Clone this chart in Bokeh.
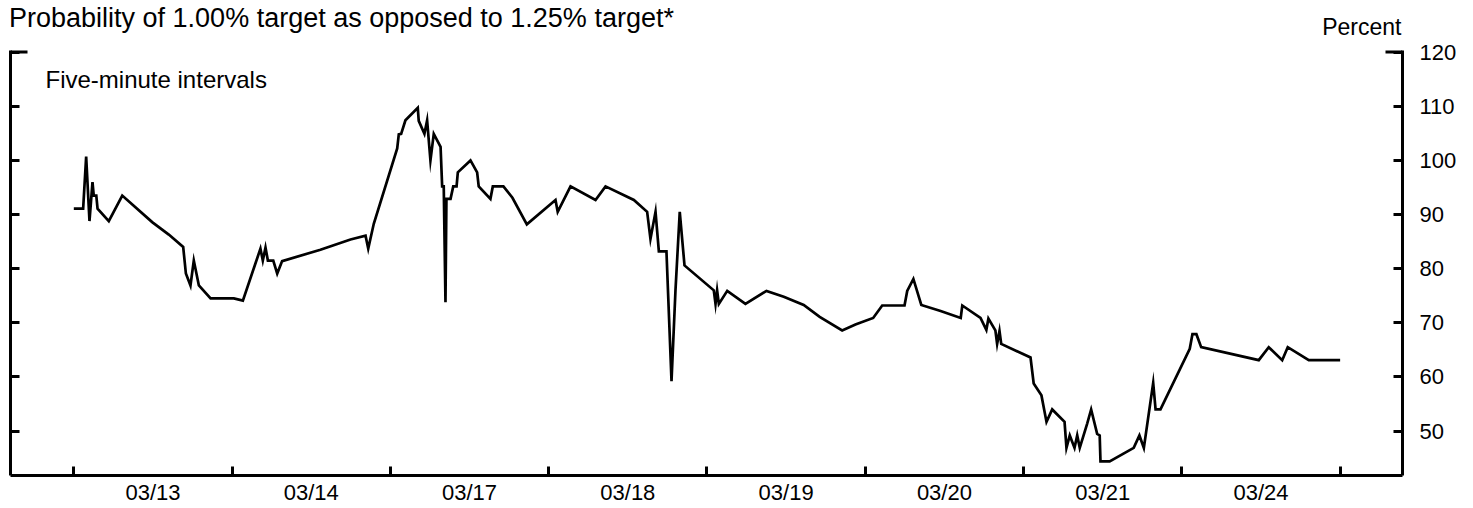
from bokeh.plotting import figure
from bokeh.models import Range1d, LinearAxis, FixedTicker, Label
from bokeh.embed import file_html
from bokeh.resources import INLINE

# ---- data -------------------------------------------------------------
day_labels = ["03/13", "03/14", "03/17", "03/18", "03/19", "03/20", "03/21", "03/24"]
y_ticks = [50, 60, 70, 80, 90, 100, 110, 120]

# position in trading days (0 = start of 03/13, 8 = end of 03/24)
x_pos = [0.0, 0.059, 0.078, 0.099, 0.118, 0.126, 0.142, 0.150, 0.221, 0.306,
         0.495, 0.600, 0.691, 0.708, 0.737, 0.758, 0.790, 0.864, 1.011, 1.068,
         1.179, 1.194, 1.211, 1.226, 1.260, 1.285, 1.316, 1.558, 1.748, 1.843,
         1.860, 1.895, 2.043, 2.053, 2.068, 2.095, 2.173, 2.179, 2.215, 2.232,
         2.253, 2.274, 2.317, 2.327, 2.337, 2.348, 2.354, 2.380, 2.397, 2.418,
         2.426, 2.506, 2.548, 2.558, 2.632, 2.647, 2.714, 2.771, 2.862, 3.043,
         3.057, 3.138, 3.296, 3.359, 3.538, 3.622, 3.643, 3.675, 3.696, 3.744,
         3.776, 3.801, 3.828, 3.858, 4.043, 4.054, 4.064, 4.075, 4.128, 4.243,
         4.376, 4.485, 4.611, 4.712, 4.854, 4.938, 5.050, 5.107, 5.248, 5.265,
         5.304, 5.354, 5.476, 5.603, 5.613, 5.728, 5.765, 5.778, 5.822, 5.833,
         5.848, 5.859, 6.044, 6.064, 6.113, 6.145, 6.181, 6.259, 6.271, 6.292,
         6.322, 6.339, 6.355, 6.402, 6.427, 6.465, 6.481, 6.486, 6.544, 6.696,
         6.732, 6.760, 6.819, 6.834, 6.865, 7.050, 7.067, 7.092, 7.122, 7.486,
         7.549, 7.634, 7.669, 7.802, 8.0]

prob = [91.1, 91.1, 100.7, 88.8, 96.0, 93.5, 93.5, 91.1, 88.8, 93.5,
        88.6, 86.3, 84.0, 79.1, 76.9, 81.5, 76.9, 74.5, 74.5, 74.1,
        83.7, 81.5, 83.9, 81.5, 81.5, 79.1, 81.4, 83.5, 85.4, 86.1,
        83.7, 88.3, 102.2, 104.8, 104.9, 107.4, 109.7, 107.3, 104.9, 107.4,
        100.0, 104.9, 102.5, 95.2, 95.2, 73.8, 92.9, 92.9, 95.2, 95.2,
        97.8, 100.0, 97.8, 95.2, 92.9, 95.2, 95.2, 93.1, 88.2, 92.7,
        90.5, 95.2, 92.7, 95.2, 92.7, 90.5, 85.5, 90.5, 83.2, 83.2,
        59.2, 76.0, 90.5, 80.6, 76.0, 73.5, 76.0, 73.5, 75.9, 73.5,
        75.9, 74.8, 73.3, 71.1, 68.6, 69.7, 70.9, 73.2, 73.2, 75.9,
        78.1, 73.3, 72.2, 70.9, 73.2, 70.9, 68.7, 70.8, 68.6, 66.1,
        68.5, 66.1, 63.6, 58.8, 56.6, 51.7, 54.0, 51.7, 46.9, 49.2,
        46.9, 49.2, 46.9, 51.4, 54.0, 49.5, 49.2, 44.4, 44.4, 46.9,
        49.2, 46.9, 58.9, 54.0, 54.0, 65.2, 67.9, 67.9, 65.5, 63.1,
        65.5, 63.1, 65.5, 63.1, 63.1]

title_text = "Probability of 1.00% target as opposed to 1.25% target*"
unit_text = "Percent"
note_text = "Five-minute intervals"

# ---- layout -----------------------------------------------------------
FONT = "Liberation Sans"
W, H = 1473, 508
LEFT, RIGHT_EDGE = 10, 1402          # axis lines (px)
AXIS_TOP, AXIS_BOTTOM = 50, 475      # extent of the vertical axis lines (px)
X0, X1 = -0.4, 8.394                 # days
Y0, Y1 = 41.8, 120.3                 # percent at AXIS_BOTTOM / AXIS_TOP
PX_X = (RIGHT_EDGE - LEFT) / (X1 - X0)
PX_Y = (AXIS_BOTTOM - AXIS_TOP) / (Y1 - Y0)
Y_TOP = Y1 + AXIS_TOP / PX_Y          # frame reaches the top of the canvas

p = figure(width=W, height=H,
           x_range=Range1d(X0, X1), y_range=Range1d(Y0, Y_TOP),
           output_backend="svg", toolbar_location=None,
           min_border_left=LEFT, min_border_right=W - RIGHT_EDGE,
           min_border_top=0, min_border_bottom=H - AXIS_BOTTOM)
p.outline_line_color = None
p.grid.visible = False

# bottom axis: tick marks at day boundaries, labels centred in each day
xa = p.xaxis[0]
xa.ticker = FixedTicker(ticks=[i + 0.5 for i in range(len(day_labels))],
                        minor_ticks=list(range(len(day_labels) + 1)))
xa.major_label_overrides = {i + 0.5: lab for i, lab in enumerate(day_labels)}
xa.major_tick_in = 0
xa.major_tick_out = 0
xa.minor_tick_in = 9
xa.minor_tick_out = 0
xa.minor_tick_line_width = 3
xa.minor_tick_line_color = "black"
xa.axis_line_width = 3
xa.axis_line_color = "black"
xa.major_label_standoff = 4
xa.major_label_text_font = FONT
xa.major_label_text_font_size = "22px"
xa.major_label_text_color = "black"

# left axis: line and inward ticks only (ticks as minor ticks -> no labels)
ya = p.yaxis[0]
ya.bounds = (Y0, Y1)
ya.ticker = FixedTicker(ticks=[], minor_ticks=y_ticks)
ya.major_tick_in = 0
ya.major_tick_out = 0
ya.minor_tick_in = 9
ya.minor_tick_out = 0
ya.minor_tick_line_width = 3
ya.minor_tick_line_color = "black"
ya.axis_line_width = 3
ya.axis_line_color = "black"
ya.major_label_standoff = 0

# right axis with labels
ra = LinearAxis(ticker=FixedTicker(ticks=y_ticks), bounds=(Y0, Y1))
ra.major_tick_in = 9
ra.major_tick_out = 0
ra.minor_tick_in = 0
ra.minor_tick_out = 0
ra.major_tick_line_width = 3
ra.axis_line_width = 3
ra.axis_line_color = "black"
ra.major_label_standoff = 17
ra.major_label_text_font = FONT
ra.major_label_text_font_size = "22px"
ra.major_label_text_color = "black"
p.add_layout(ra, "right")

# longer top ticks at 120 on both frame sides
top = y_ticks[-1]
p.segment(x0=[X0, X1 - 17 / PX_X], y0=[top, top],
          x1=[X0 + 17 / PX_X, X1], y1=[top, top],
          line_color="black", line_width=3)

# the series
p.line(x_pos, prob, line_color="black", line_width=2.7, line_join="miter")

# texts (positioned in pixels relative to the axis frame)
p.add_layout(Label(x=X0 - 1.5 / PX_X, y=Y1 + (AXIS_TOP - 17.5) / PX_Y, text=title_text,
                   text_font=FONT, text_font_size="27px", text_color="black",
                   text_baseline="alphabetic", text_align="left"))
p.add_layout(Label(x=X1 - 1 / PX_X, y=Y1 + (AXIS_TOP - 26) / PX_Y, text=unit_text,
                   text_font=FONT, text_font_size="23px", text_color="black",
                   text_baseline="alphabetic", text_align="right"))
p.add_layout(Label(x=X0 + 35 / PX_X, y=Y1 - 29 / PX_Y, text=note_text,
                   text_font=FONT, text_font_size="24px", text_color="black",
                   text_baseline="alphabetic", text_align="left"))

open("out.html", "w").write(file_html(p, INLINE))
